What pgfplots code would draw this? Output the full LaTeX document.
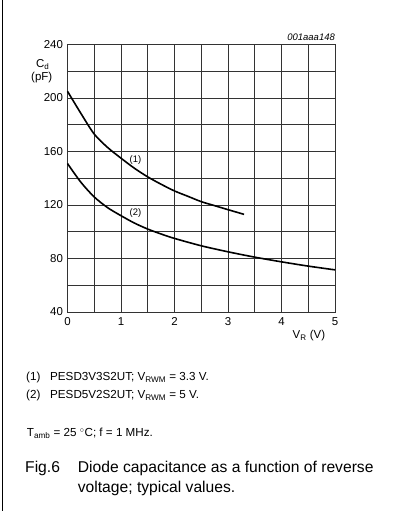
\documentclass[border=0pt]{standalone}
\usepackage{pgfplots}
\pgfplotsset{compat=1.18}
\usepackage{fontspec}
\setmainfont{Liberation Sans}
\begin{document}
\begin{tikzpicture}[x=1bp,y=1bp]
\useasboundingbox (0,0) rectangle (396,511);
\draw[line width=1bp] (2,0) -- (2,511);
\begin{axis}[
  at={(67.5bp,199bp)}, anchor=south west,
  scale only axis, width=267.5bp, height=267.5bp,
  xmin=0, xmax=5, ymin=40, ymax=240,
  xtick={0,1,2,3,4,5}, ytick={40,80,120,160,200,240},
  minor xtick={0.5,1.5,2.5,3.5,4.5}, minor ytick={60,100,140,180,220},
  grid=both,
  major grid style={black!80, line width=0.8bp},
  minor grid style={black!80, line width=0.8bp},
  axis line style={black!80, line width=0.8bp},
  major tick length=0pt, minor tick length=0pt,
  tick label style={font=\fontsize{11.5}{13}\selectfont},
  /pgf/number format/assume math mode=true,
  xticklabel style={yshift=-2bp},
  yticklabel style={xshift=-1bp},
  clip=false,
]
\addplot[black, line width=1.6bp, smooth] coordinates {
(0,205) (0.25,188.5) (0.5,173) (0.75,163) (1,155) (1.25,147.5) (1.5,141)
(1.75,135.5) (2,130.5) (2.25,126.5) (2.5,122.5) (2.75,119.5) (3,116.5) (3.3,113)};
\addplot[black, line width=1.6bp, smooth] coordinates {
(0,151) (0.25,137) (0.5,126) (0.75,118) (1,112) (1.25,106.5) (1.5,102)
(1.75,98.3) (2,95) (2.5,89.5) (3,85) (3.5,81) (4,77.5) (4.5,74.3) (5,71.5)};
\node[font=\fontsize{9.5}{11}\selectfont, inner sep=1bp] at (axis cs:1.27,153.6) {(1)};
\node[font=\fontsize{9.5}{11}\selectfont, inner sep=1bp] at (axis cs:1.27,113.8) {(2)};
\end{axis}
\node[anchor=base east, inner sep=0, font=\itshape\fontsize{9.5}{11}\selectfont] at (335,511-40.7) {001aaa148};
\node[anchor=base west, inner sep=0, font=\fontsize{11.5}{13}\selectfont] at (36,511-67.3) {C$_{\mathrm{d}}$};
\node[anchor=base west, inner sep=0, font=\fontsize{11.5}{13}\selectfont] at (31,511-81) {(pF)};
\node[anchor=base west, inner sep=0, font=\fontsize{11.5}{13}\selectfont] at (292.5,511-339) {V\textsubscript{R} (V)};
\node[anchor=base west, inner sep=0, font=\fontsize{11.7}{13}\selectfont] at (26,511-380.7) {(1)};
\node[anchor=base west, inner sep=0, font=\fontsize{11.7}{13}\selectfont] at (50,511-380.7) {PESD3V3S2UT; V\textsubscript{RWM} = 3.3 V.};
\node[anchor=base west, inner sep=0, font=\fontsize{11.7}{13}\selectfont] at (26,511-399) {(2)};
\node[anchor=base west, inner sep=0, font=\fontsize{11.7}{13}\selectfont] at (50,511-399) {PESD5V2S2UT; V\textsubscript{RWM} = 5 V.};
\node[anchor=base west, inner sep=0, font=\fontsize{11.7}{13}\selectfont] at (26.7,511-437) {T\textsubscript{amb} = 25 \textsuperscript{$\circ$}C; f = 1 MHz.};
\node[anchor=base west, inner sep=0, font=\fontsize{15.7}{18}\selectfont] at (25,511-472.7) {Fig.6};
\node[anchor=base west, inner sep=0, font=\fontsize{15.7}{18}\selectfont] at (77.7,511-472.7) {Diode capacitance as a function of reverse};
\node[anchor=base west, inner sep=0, font=\fontsize{15.7}{18}\selectfont] at (77.7,511-492.7) {voltage; typical values.};
\end{tikzpicture}
\end{document}
